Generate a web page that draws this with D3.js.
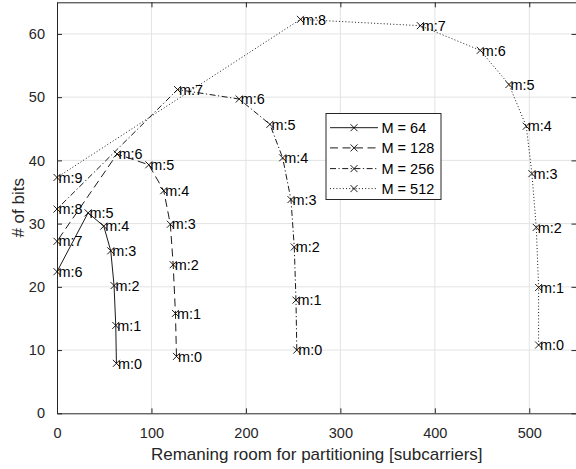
<!DOCTYPE html>
<html>
<head>
<meta charset="utf-8">
<script src="https://cdn.jsdelivr.net/npm/d3@7"></script>
<style>
  html, body { margin: 0; padding: 0; background: #fff; }
  svg { display: block; font-family: "Liberation Sans", Arial, sans-serif; }
</style>
</head>
<body>
<svg id="chart" width="576" height="469"></svg>
<script>
// Bits achieved vs. remaining subcarriers for each partition index m
const xTicks = [0, 100, 200, 300, 400, 500];
const yTicks = [0, 10, 20, 30, 40, 50, 60];

const m64X  = [62.9, 62.2, 60.4, 56.9, 49.5, 32.9, 0];
const m64Y  = [7.9, 13.9, 20.2, 25.7, 29.6, 31.7, 22.4];

const m128X = [126.5, 125.4, 123.0, 120.0, 113.0, 97.2, 63.6, 0];
const m128Y = [9.0, 15.8, 23.5, 29.9, 35.2, 39.3, 41.0, 27.2];

const m256X = [253.9, 253.0, 251.2, 247.7, 238.9, 225.4, 192.9, 127.6, 0];
const m256Y = [10.0, 17.9, 26.3, 33.8, 40.4, 45.7, 49.7, 51.2, 32.3];

const m512X = [509.9, 509.9, 507.4, 502.8, 496.8, 478.5, 448.1, 384.7, 257.7, 0];
const m512Y = [10.8, 19.9, 29.4, 37.9, 45.4, 52.0, 57.4, 61.3, 62.3, 37.3];

const seriesNames = ["M = 64", "M = 128", "M = 256", "M = 512"];
const seriesX = [m64X, m128X, m256X, m512X];
const seriesY = [m64Y, m128Y, m256Y, m512Y];
const dashes = [null, "8,4.5", "6,2.5,1.2,2.5", "1,2.2"];

const svg = d3.select("#chart");
const plotL = 57, plotR = 576.5, plotT = 2.3, plotB = 413.3;
const axisColor = "#262626";

const x = d3.scaleLinear().domain([0, 550]).range([plotL, plotR]);
const y = d3.scaleLinear().domain([0, 65]).range([plotB, plotT]);

// grid
const grid = svg.append("g");
grid.selectAll("line.gx").data(xTicks.slice(1)).join("line")
  .attr("x1", d => x(d)).attr("x2", d => x(d))
  .attr("y1", plotT).attr("y2", plotB)
  .attr("stroke", "#e3e3e3").attr("stroke-width", 1);
grid.selectAll("line.gy").data(yTicks.slice(1)).join("line")
  .attr("y1", d => y(d)).attr("y2", d => y(d))
  .attr("x1", plotL).attr("x2", plotR)
  .attr("stroke", "#e3e3e3").attr("stroke-width", 1);

// axes (ticks point inward, box on all four sides)
const tk = 5;
const xAxisB = d3.axisBottom(x).tickValues(xTicks).tickSize(-tk).tickPadding(14).tickSizeOuter(0);
const xAxisT = d3.axisTop(x).tickValues(xTicks).tickSize(-tk).tickFormat("").tickSizeOuter(0);
const yAxisL = d3.axisLeft(y).tickValues(yTicks).tickSize(-tk).tickPadding(12).tickSizeOuter(0);
const yAxisR = d3.axisRight(y).tickValues(yTicks).tickSize(-tk).tickFormat("").tickSizeOuter(0);

function styleAxis(g) {
  g.select(".domain").attr("stroke", axisColor).attr("stroke-width", 1);
  g.selectAll(".tick line").attr("stroke", axisColor).attr("stroke-width", 1);
  g.selectAll(".tick text").attr("fill", axisColor).attr("font-size", 14.5)
    .attr("font-family", "'Liberation Sans', Arial, sans-serif");
}
svg.append("g").attr("transform", `translate(0,${plotB})`).call(xAxisB).call(styleAxis);
svg.append("g").attr("transform", `translate(0,${plotT})`).call(xAxisT).call(styleAxis);
svg.append("g").attr("transform", `translate(${plotL},0)`).call(yAxisL).call(styleAxis);
svg.append("g").attr("transform", `translate(${plotR},0)`).call(yAxisR).call(styleAxis);

// axis titles
svg.append("text")
  .attr("x", (plotL + plotR) / 2).attr("y", 460)
  .attr("text-anchor", "middle").attr("font-size", 17).attr("fill", axisColor)
  .text("Remaning room for partitioning [subcarriers]");
svg.append("text")
  .attr("transform", `translate(24,${(plotT + plotB) / 2}) rotate(-90)`)
  .attr("text-anchor", "middle").attr("font-size", 17).attr("fill", axisColor)
  .text("# of bits");

// series lines, markers and m-labels
const line = d3.line().x(d => x(d[0])).y(d => y(d[1]));
const ms = 3.5;
function cross(g, cx, cy) {
  g.append("path")
    .attr("d", `M${cx - ms},${cy - ms}L${cx + ms},${cy + ms}M${cx - ms},${cy + ms}L${cx + ms},${cy - ms}`)
    .attr("stroke", "#000").attr("stroke-width", 0.9).attr("fill", "none");
}

seriesX.forEach((xs, i) => {
  const pts = xs.map((v, j) => [v, seriesY[i][j]]);
  svg.append("path").datum(pts)
    .attr("d", line)
    .attr("fill", "none").attr("stroke", "#000").attr("stroke-width", 0.9)
    .attr("stroke-dasharray", dashes[i]);
  const g = svg.append("g");
  pts.forEach((p, j) => {
    cross(g, x(p[0]), y(p[1]));
    g.append("text")
      .attr("x", x(p[0]) + 1.5).attr("y", y(p[1]))
      .attr("dy", "0.36em").attr("font-size", 14.4).attr("fill", "#000")
      .text("m:" + j);
  });
});

// legend
const lg = svg.append("g");
lg.append("rect").attr("x", 326).attr("y", 113.5).attr("width", 115).attr("height", 86)
  .attr("fill", "#fff").attr("stroke", axisColor).attr("stroke-width", 1);
const rowY = [127.7, 147.9, 168.6, 188.6];
seriesNames.forEach((name, i) => {
  lg.append("line").attr("x1", 330).attr("x2", 378).attr("y1", rowY[i]).attr("y2", rowY[i])
    .attr("stroke", "#000").attr("stroke-width", 0.9).attr("stroke-dasharray", dashes[i]);
  cross(lg, 354, rowY[i]);
  lg.append("text").attr("x", 381.5).attr("y", rowY[i]).attr("dy", "0.36em")
    .attr("font-size", 14.5).attr("fill", "#000").text(name);
});
</script>
</body>
</html>
